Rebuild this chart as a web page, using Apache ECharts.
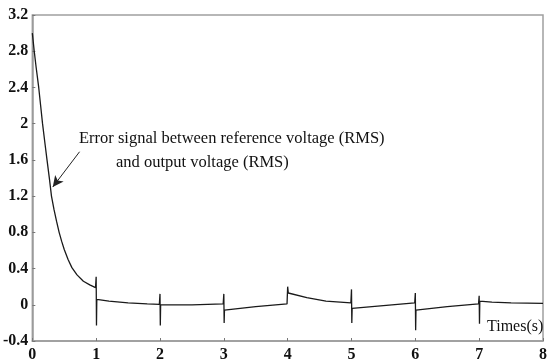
<!DOCTYPE html>
<html>
<head>
<meta charset="utf-8">
<script src="https://cdn.jsdelivr.net/npm/echarts@6/dist/echarts.min.js"></script>
<style>html,body{margin:0;padding:0;background:#fff;}#c{width:550px;height:363px;}</style>
</head>
<body>
<div id="c"></div>
<script>
// time (s) and error signal values
var times = [
  0, 0.03, 0.06, 0.10, 0.13, 0.16, 0.20, 0.23, 0.27, 0.30, 0.34, 0.38, 0.42, 0.46, 0.50, 0.56, 0.62, 0.70, 0.80, 0.90, 0.99,
  1.0, 1.005, 1.01, 1.03, 1.2, 1.5, 1.8, 1.99,
  2.0, 2.005, 2.01, 2.5, 2.99,
  3.0, 3.005, 3.01, 3.03, 3.5, 3.99,
  4.0, 4.01, 4.3, 4.6, 4.99,
  5.0, 5.005, 5.01, 5.5, 5.99,
  6.0, 6.005, 6.01, 6.5, 6.99,
  7.0, 7.005, 7.01, 7.2, 7.5, 8.0
];
var errorValues = [
  3.00, 2.80, 2.62, 2.40, 2.20, 2.00, 1.77, 1.60, 1.38, 1.20, 1.05, 0.92, 0.80, 0.70, 0.61, 0.50, 0.41, 0.33, 0.26, 0.22, 0.19,
  0.31, -0.23, 0.06, 0.05, 0.04, 0.02, 0.01, 0.005,
  0.12, -0.23, 0.0, 0.0, 0.01,
  0.12, -0.20, -0.06, -0.05, -0.02, 0.01,
  0.20, 0.13, 0.08, 0.04, 0.02,
  0.17, -0.20, -0.04, -0.01, 0.02,
  0.13, -0.28, -0.06, -0.02, 0.01,
  0.10, -0.21, 0.04, 0.03, 0.02, 0.015
];
var xTicks = [0, 1, 2, 3, 4, 5, 6, 7, 8];
var yTicks = [-0.4, 0, 0.4, 0.8, 1.2, 1.6, 2, 2.4, 2.8, 3.2];
var arrowFrom = [0.74, 1.69];
var arrowTo = [0.32, 1.30];

var chart = echarts.init(document.getElementById('c'));
var data = times.map(function (t, i) { return [t, errorValues[i]]; });
var serif = '"Liberation Serif", "DejaVu Serif", serif';
chart.setOption({
  animation: false,
  grid: { left: 31, right: 2, top: 15, bottom: 22, show: true, borderColor: '#a0a0a0', borderWidth: 1.5 },
  xAxis: {
    type: 'value', min: xTicks[0], max: xTicks[xTicks.length - 1], interval: 1,
    axisLine: { show: true, onZero: false, lineStyle: { color: '#9a9a9a', width: 1.5 } },
    axisTick: { show: true, inside: true, length: 3, lineStyle: { color: '#777' } },
    splitLine: { show: false },
    axisLabel: { color: '#111', fontFamily: serif, fontWeight: 'bold', fontSize: 16, margin: 6 }
  },
  yAxis: {
    type: 'value', min: yTicks[0], max: yTicks[yTicks.length - 1], interval: 0.4,
    axisLine: { show: true, onZero: false, lineStyle: { color: '#9a9a9a', width: 1.5 } },
    axisTick: { show: true, inside: true, length: 3, lineStyle: { color: '#777' } },
    splitLine: { show: false },
    axisLabel: {
      color: '#111', fontFamily: serif, fontWeight: 'bold', fontSize: 16, margin: 4,
      formatter: function (v) { return String(Math.round(v * 10) / 10); }
    }
  },
  graphic: [
    { type: 'text', left: 79, top: 130, style: { text: 'Error signal between reference voltage (RMS)', font: '16.5px ' + serif, fill: '#111' } },
    { type: 'text', left: 116, top: 154, style: { text: 'and output voltage (RMS)', font: '16.5px ' + serif, fill: '#111' } },
    { type: 'text', left: 487, top: 319, style: { text: 'Times(s)', font: '16px ' + serif, fill: '#111' } }
  ],
  series: [{
    type: 'line', data: data, showSymbol: false, symbol: 'none',
    lineStyle: { color: '#1a1a1a', width: 1.3 },
    markLine: {
      silent: true, symbol: ['none', 'arrow'], symbolSize: [8, 11],
      label: { show: false },
      lineStyle: { color: '#222', width: 1, type: 'solid' },
      data: [[{ coord: arrowFrom }, { coord: arrowTo }]]
    }
  }]
});
</script>
</body>
</html>
